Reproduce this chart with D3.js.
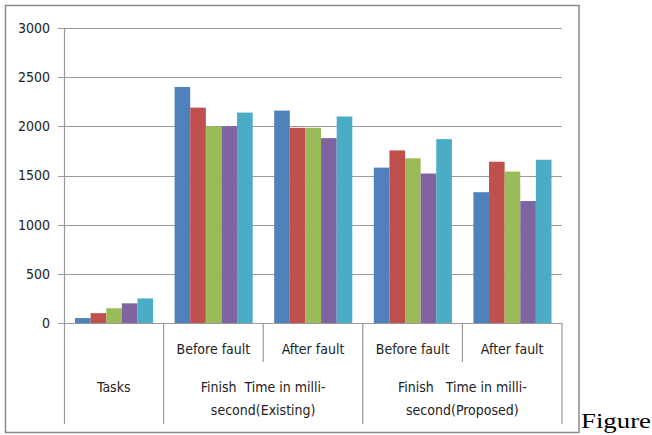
<!DOCTYPE html>
<html lang="en">
<head>
<meta charset="UTF-8">
<script src="https://d3js.org/d3.v7.min.js"></script>
<style>
  body { margin: 0; background: #fff; }
  .lbl { font-family: "Liberation Sans Narrow", "DejaVu Sans Condensed", "Open Sans", sans-serif; font-size: 14px; fill: #222; }
  .fig { font-family: "Liberation Serif", "DejaVu Serif", serif; font-size: 21px; fill: #000; }
</style>
</head>
<body>
<svg id="chart" width="652" height="435"></svg>
<script>

// data
const groups = ['g0', 'g1', 'g2', 'g3', 'g4']
const series = ['s1', 's2', 's3', 's4', 's5']
const values = [
    [50, 100, 150, 200, 250],
    [2400, 2190, 2000, 2000, 2140],
    [2160, 1985, 1985, 1880, 2100],
    [1580, 1755, 1675, 1520, 1870],
    [1330, 1640, 1540, 1240, 1660]
]
const subLabels = ['', 'Before fault', 'After fault', 'Before fault', 'After fault']
const mainLabels = [
    {span: [0, 1], lines: ['Tasks']},
    {span: [1, 3], lines: ['Finish  Time in milli-', 'second(Existing)']},
    {span: [3, 5], lines: ['Finish   Time in milli-', 'second(Proposed)']}
]
const yTicks = [0, 500, 1000, 1500, 2000, 2500, 3000]
const colors = ['#4F81BD', '#C0504D', '#9BBB59', '#8064A2', '#4BACC6']

const plotLeft = 64, plotRight = 562, plotTop = 28, plotBottom = 323

let svg = d3.select('#chart')

// outer frame
svg.append('rect')
    .attr('x', 5.5).attr('y', 5.5)
    .attr('width', 573.5).attr('height', 427)
    .attr('fill', 'none')
    .attr('stroke', '#8a8a8a')
    .attr('stroke-width', 1.5)

let y = d3.scaleLinear()
    .domain([0, 3000])
    .range([plotBottom, plotTop])

let x0 = d3.scaleBand()
    .domain(groups)
    .range([plotLeft, plotRight])

let x1 = d3.scaleBand()
    .domain(series)
    .range([11, x0.bandwidth() - 10.5])

// gridlines
svg.append('g')
    .selectAll('line')
    .data(yTicks)
    .join('line')
      .attr('x1', plotLeft - 6)
      .attr('x2', plotRight)
      .attr('y1', d => Math.round(y(d)) + 0.5)
      .attr('y2', d => Math.round(y(d)) + 0.5)
      .attr('stroke', '#9a9a9a')
      .attr('stroke-width', 1.2)

// y tick labels
svg.append('g')
    .selectAll('text')
    .data(yTicks)
    .join('text')
      .attr('class', 'lbl')
      .attr('x', 50)
      .attr('y', d => y(d))
      .attr('dy', '0.35em')
      .attr('text-anchor', 'end')
      .text(d => d)

// bars
let grp = svg.selectAll('.grp')
  .data(values)
  .join('g')
    .attr('class', 'grp')
    .attr('transform', (d, i) => `translate(${x0(groups[i])},0)`)

grp.selectAll('rect')
  .data(d => d)
  .join('rect')
    .attr('x', (d, i) => x1(series[i]))
    .attr('width', x1.bandwidth())
    .attr('y', d => y(d))
    .attr('height', d => y(0) - y(d))
    .attr('fill', (d, i) => colors[i])

// y axis line
svg.append('line')
    .attr('x1', plotLeft + 0.5).attr('x2', plotLeft + 0.5)
    .attr('y1', plotTop).attr('y2', 424)
    .attr('stroke', '#9a9a9a')
    .attr('stroke-width', 1.2)

// category separators
let majorEdges = [1, 3, 5].map(i => i < groups.length ? x0(groups[i]) : plotRight)
svg.append('g')
    .selectAll('line')
    .data(majorEdges)
    .join('line')
      .attr('x1', d => d).attr('x2', d => d)
      .attr('y1', plotBottom).attr('y2', 424)
      .attr('stroke', '#9a9a9a')
      .attr('stroke-width', 1.2)

svg.append('g')
    .selectAll('line')
    .data([2, 4])
    .join('line')
      .attr('x1', i => x0(groups[i])).attr('x2', i => x0(groups[i]))
      .attr('y1', plotBottom).attr('y2', 362)
      .attr('stroke', '#9a9a9a')
      .attr('stroke-width', 1.2)

// sub labels
svg.append('g')
    .selectAll('text')
    .data(subLabels)
    .join('text')
      .attr('class', 'lbl')
      .attr('x', (d, i) => x0(groups[i]) + x0.bandwidth() / 2)
      .attr('y', 349)
      .attr('dy', '0.35em')
      .attr('text-anchor', 'middle')
      .text(d => d)

// main labels
mainLabels.forEach(m => {
    let cx = (x0(groups[m.span[0]]) + (m.span[1] < groups.length ? x0(groups[m.span[1]]) : plotRight)) / 2
    m.lines.forEach((t, k) => {
        svg.append('text')
            .attr('class', 'lbl')
            .attr('x', cx)
            .attr('y', 387 + k * 23)
            .attr('dy', '0.35em')
            .attr('text-anchor', 'middle')
            .style('white-space', 'pre')
            .text(t)
    })
})

svg.append('text')
    .attr('class', 'fig')
    .attr('x', 581)
    .attr('y', 428)
    .attr('textLength', 70)
    .attr('lengthAdjust', 'spacingAndGlyphs')
    .text('Figure')

</script>
</body>
</html>
